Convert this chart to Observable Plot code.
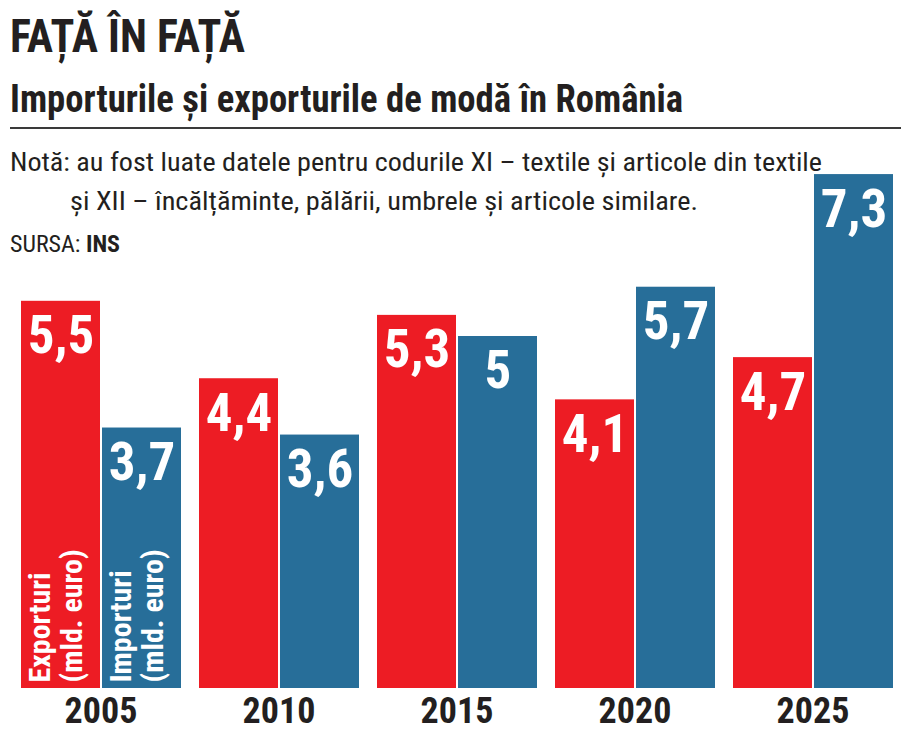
<!DOCTYPE html>
<html>
<head>
<meta charset="utf-8">
<script src="https://cdn.jsdelivr.net/npm/d3@7"></script>
<script src="https://cdn.jsdelivr.net/npm/@observablehq/plot@0.6"></script>
<style>
  html, body { margin: 0; padding: 0; background: #fff; }
  body { width: 901px; height: 741px; position: relative; overflow: hidden;
         font-family: "Roboto Condensed", "Open Sans", sans-serif; color: #231f20; }
  #head { position: absolute; left: 0; top: 0; width: 901px; }
  #chart { position: absolute; left: 0; top: 0; }
  .fit { position: absolute; white-space: nowrap; transform-origin: 0 0; display: inline-block; }
  .title { left: 10px; top: 8px; font-size: 46px; font-weight: bold; line-height: 56px; }
  .subtitle { left: 10px; top: 76px; font-size: 39px; font-weight: bold; line-height: 46px; }
  .rule { position: absolute; left: 10px; top: 127px; width: 891px; height: 2px; background: #3a3a3a; }
  .note1 { left: 10px; top: 144px; font-size: 26px; line-height: 36px; }
  .note2 { left: 70px; top: 183px; font-size: 26px; line-height: 36px; }
  .source { left: 10px; top: 228px; font-size: 23px; line-height: 34px; }
</style>
</head>
<body>
<div id="head">
  <div class="fit title" data-w="235">FAȚĂ ÎN FAȚĂ</div>
  <div class="fit subtitle" data-w="673">Importurile și exporturile de modă în România</div>
  <div class="rule"></div>
  <div class="fit note1" data-w="812">Notă: au fost luate datele pentru codurile XI – textile și articole din textile</div>
  <div class="fit note2" data-w="628">și XII – încălțăminte, pălării, umbrele și articole similare.</div>
  <div class="fit source" data-w="110">SURSA: <b>INS</b></div>
</div>
<div id="chart"></div>
<script>
// Fashion trade of Romania, billions of euro
const years = ["2005", "2010", "2015", "2020", "2025"];
const exporturi = [5.5, 4.4, 5.3, 4.1, 4.7];
const importuri = [3.7, 3.6, 5.0, 5.7, 7.3];
const seriesNames = ["Exporturi", "Importuri"];
const unitLabel = "(mld. euro)";
const seriesColors = ["#ed1c24", "#276e99"];

const rows = years.flatMap((year, i) => [
  {year, series: seriesNames[0], value: exporturi[i]},
  {year, series: seriesNames[1], value: importuri[i]}
]);
// Series names are written inside the first pair of bars only
const nameRows = seriesNames.map(s => ({year: years[0], series: s, label: s}));
const unitRows = seriesNames.map(s => ({year: years[0], series: s, label: unitLabel}));

const fmt = v => String(v).replace(".", ",");
const font = '"Roboto Condensed", "Open Sans", sans-serif';

const chart = Plot.plot({
  width: 901,
  height: 741,
  marginLeft: 19,
  marginRight: 7,
  marginTop: 54.4,
  marginBottom: 53,
  style: {fontFamily: font, background: "transparent"},
  fx: {domain: years, paddingInner: 0.096, paddingOuter: 0, label: null, axis: null},
  x: {domain: seriesNames, paddingInner: 0.028, paddingOuter: 0, axis: null},
  y: {domain: [0, 9], axis: null},
  color: {domain: seriesNames, range: seriesColors},
  marks: [
    Plot.barY(rows, {fx: "year", x: "series", y: "value", fill: "series"}),
    // year under each pair of bars
    Plot.text(years, {fx: d => d, text: d => d, frameAnchor: "bottom", lineAnchor: "top",
      dy: 9, fontSize: 36, fontWeight: "bold", fill: "#231f20", ariaLabel: "year"}),
    Plot.text(rows, {fx: "year", x: "series", y: "value", text: d => fmt(d.value),
      dy: 35, fill: "white", fontSize: 53, fontWeight: "bold", ariaLabel: "value"}),
    Plot.text(nameRows, {fx: "year", x: "series", y: () => 0, text: "label",
      rotate: -90, textAnchor: "start", lineAnchor: "middle",
      dx: -21, dy: -6, fill: "white", fontSize: 30, fontWeight: "bold", ariaLabel: "series name"}),
    Plot.text(unitRows, {fx: "year", x: "series", y: () => 0, text: "label",
      rotate: -90, textAnchor: "start", lineAnchor: "middle",
      dx: 11, dy: -6, fill: "white", fontSize: 30, fontWeight: "bold", ariaLabel: "series unit"})
  ]
});
document.getElementById("chart").appendChild(chart);

// Condense the header lines to their set widths
document.querySelectorAll(".fit").forEach(el => {
  const w = el.getBoundingClientRect().width;
  el.style.transform = `scaleX(${+el.dataset.w / w})`;
});

// Condense chart texts: one factor per group, taken from a sample label's set width
function condense(label, sample, target) {
  const texts = [...chart.querySelectorAll(`g[aria-label="${label}"] text`)];
  const ref = texts.find(t => t.textContent === sample);
  if (!ref) return;
  const k = target / ref.getComputedTextLength();
  texts.forEach(t => {
    t.setAttribute("textLength", t.getComputedTextLength() * k);
    t.setAttribute("lengthAdjust", "spacingAndGlyphs");
  });
}
condense("year", "2025", 59);
condense("value", "5,5", 48);
condense("series name", "Exporturi", 102);
condense("series unit", unitLabel, 122);
</script>
</body>
</html>
